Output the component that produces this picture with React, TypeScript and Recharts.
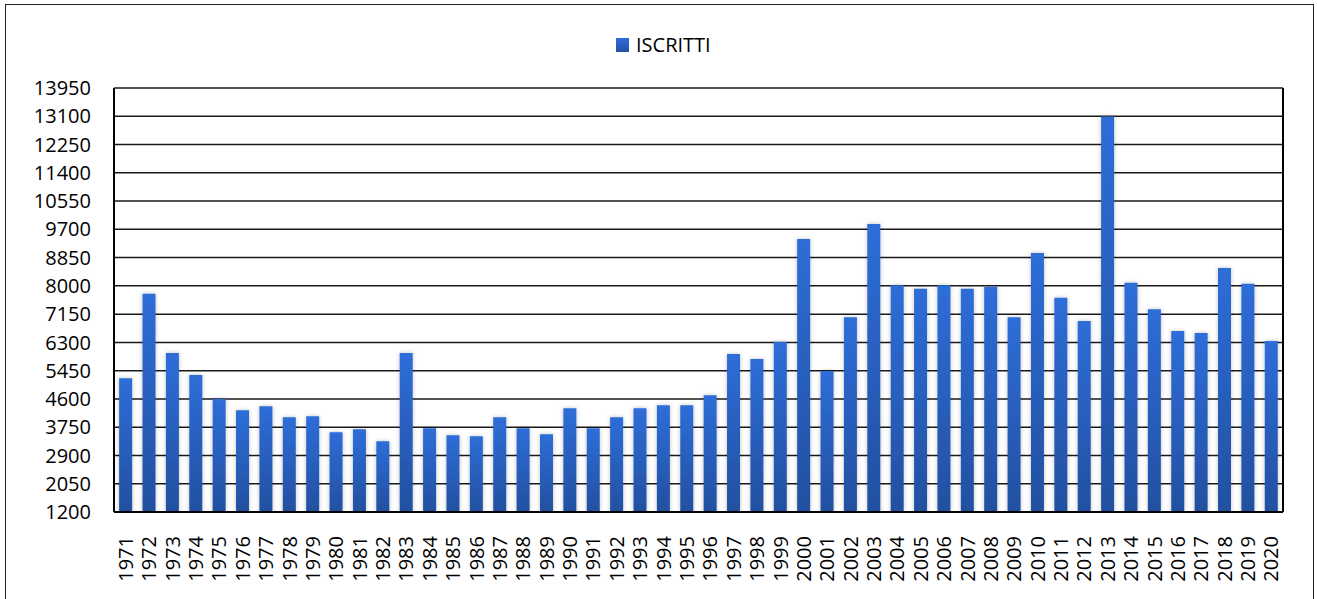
import React from 'react'
import { Bar, BarChart, CartesianGrid, XAxis, YAxis } from 'recharts'

const years = [
  '1971', '1972', '1973', '1974', '1975', '1976', '1977', '1978', '1979', '1980',
  '1981', '1982', '1983', '1984', '1985', '1986', '1987', '1988', '1989', '1990',
  '1991', '1992', '1993', '1994', '1995', '1996', '1997', '1998', '1999', '2000',
  '2001', '2002', '2003', '2004', '2005', '2006', '2007', '2008', '2009', '2010',
  '2011', '2012', '2013', '2014', '2015', '2016', '2017', '2018', '2019', '2020',
]

const iscritti = [
  5220, 7760, 5980, 5320, 4600, 4260, 4380, 4050, 4080, 3600,
  3690, 3330, 5980, 3720, 3510, 3480, 4050, 3720, 3540, 4320,
  3720, 4050, 4320, 4410, 4410, 4710, 5950, 5800, 6310, 9410,
  5440, 7060, 9860, 8020, 7910, 8020, 7910, 7970, 7060, 8990,
  7640, 6940, 13090, 8090, 7300, 6640, 6580, 8540, 8060, 6340,
]

const yTicks = [1200, 2050, 2900, 3750, 4600, 5450, 6300, 7150, 8000, 8850, 9700, 10550, 11400, 12250, 13100, 13950]

const data = years.map((y, i) => ({ anno: y, ISCRITTI: iscritti[i] }))

const FONT = '"Open Sans", "Liberation Sans", sans-serif'

function YearTick({ x, y, payload }: any) {
  return (
    <text
      x={x}
      y={y + 16}
      transform={`rotate(-90, ${x}, ${y + 16})`}
      textAnchor='end'
      dy='0.36em'
      fill='#000'
      fontSize={20}
      fontFamily={FONT}
    >
      {payload.value}
    </text>
  )
}

export default function App() {
  return (
    <div style={{ position: 'absolute', left: 0, top: 0, width: 1317, height: 599, background: '#fff', overflow: 'hidden' }}>
      <div style={{ position: 'absolute', left: 5, top: 4, width: 1307, height: 620, border: '1.5px solid #222' }} />
      {/* legend */}
      <div style={{ position: 'absolute', top: 31, left: 616, display: 'flex', alignItems: 'center', fontFamily: FONT, fontSize: 20, color: '#000' }}>
        <span style={{ width: 13, height: 14, background: 'linear-gradient(#2e6dd8, #2452a8)', marginRight: 7 }} />
        <span>ISCRITTI</span>
      </div>
      <div style={{ position: 'absolute', left: 0, top: 0 }}>
        <BarChart
          width={1317}
          height={599}
          data={data}
          margin={{ top: 88, right: 33, left: 0, bottom: 27 }}
          barCategoryGap='22%'
        >
          <defs>
            <linearGradient id='barFill' x1='0' y1='0' x2='0' y2='1'>
              <stop offset='0%' stopColor='#2e6dd8' />
              <stop offset='100%' stopColor='#2250a0' />
            </linearGradient>
            <filter id='barShadow' x='-30%' y='-5%' width='160%' height='110%'>
              <feDropShadow dx='0' dy='0' stdDeviation='2' floodColor='#000' floodOpacity='0.25' />
            </filter>
          </defs>
          <CartesianGrid vertical={false} stroke='#000' strokeWidth={1.5} strokeOpacity={0.9} />
          <XAxis
            dataKey='anno'
            interval={0}
            height={60}
            tick={<YearTick />}
            tickLine={false}
            axisLine={{ stroke: '#000', strokeWidth: 2 }}
          />
          <YAxis
            domain={[1200, 13950]}
            ticks={yTicks}
            interval={0}
            allowDataOverflow
            width={114}
            tickSize={0}
            tickMargin={23}
            tickLine={false}
            axisLine={{ stroke: '#000', strokeWidth: 2 }}
            tick={{ fill: '#000', fontSize: 20, fontFamily: FONT }}
          />
          <YAxis
            yAxisId='right'
            orientation='right'
            width={1}
            domain={[0, 1]}
            tick={false}
            tickLine={false}
            axisLine={{ stroke: '#000', strokeWidth: 2 }}
          />
          <Bar dataKey='ISCRITTI' fill='url(#barFill)' filter='url(#barShadow)' isAnimationActive={false} />
        </BarChart>
      </div>
    </div>
  )
}
